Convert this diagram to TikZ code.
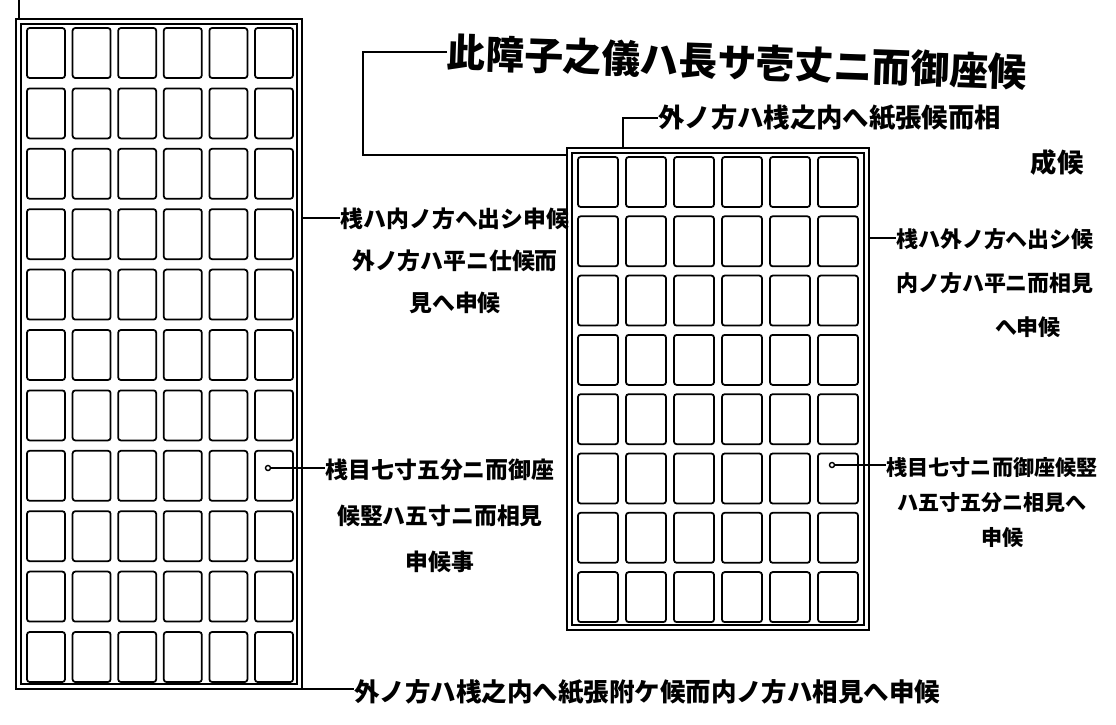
\documentclass[tikz,border=0pt]{standalone}
\usepackage{fontspec}
\setmainfont{Noto Sans CJK JP}
\usetikzlibrary{calc}

\tikzset{
  cell/.style = {line width=1pt, rounded corners=1.5pt},
  frame/.style = {line width=1.1pt},
  lead/.style = {line width=0.8pt},
  note/.style = {inner sep=0pt, align=center, font=\bfseries\fontsize{13}{24}\selectfont},
}

\begin{document}
\begin{tikzpicture} [x=0.02cm, y=-0.02cm]
	\useasboundingbox (0,0) rectangle (1116,724);
	% left screen
	\draw [frame] (16,19) rectangle (302,689);
	\draw [frame] (21,24) rectangle (297,684);
	\foreach \i in {0,...,5}
		\foreach \j in {0,...,10}
			\draw [cell] ({27+45.6*\i},{28+60.4*\j}) rectangle ++(38,50);
	% right screen
	\draw [frame] (567,148) rectangle (869,630);
	\draw [frame] (572,153) rectangle (864,625);
	\foreach \i in {0,...,5}
		\foreach \j in {0,...,7}
			\draw [cell] ({578+48*\i},{157+59.3*\j}) rectangle ++(40,50);
	\coordinate (L-top) at (19,19);
	\coordinate (L-a) at (302,218);
	\coordinate (L-b) at (268,468);
	\coordinate (L-c) at (296,689);
	\coordinate (R-side) at (567,155);
	\coordinate (R-top) at (623,148);
	\coordinate (R-a) at (869,238);
	\coordinate (R-b) at (832,465);
	% labels
	\node [anchor=west, rotate=-2, inner sep=0pt, font=\bfseries\fontsize{22}{22}\selectfont] (title) at (447,52) {此障子之儀ハ長サ壱丈ニ而御座候};
	\node [anchor=west, inner sep=0pt, font=\bfseries\fontsize{15}{15}\selectfont] (hdrA) at (658,118) {外ノ方ハ桟之内へ紙張候而相};
	\node [inner sep=0pt, font=\bfseries\fontsize{15}{15}\selectfont] (hdrB) at (1057,162) {成候};
	\node [note, anchor=north] (lmid) at (455,207) {桟ハ内ノ方ヘ出シ申候\\外ノ方ハ平ニ仕候而\\見へ申候};
	\node [note, anchor=north, font=\bfseries\fontsize{12.5}{25}\selectfont] (rmid) at (995,228) {桟ハ外ノ方ヘ出シ候\\内ノ方ハ平ニ而相見\\\hspace*{3em}へ申候};
	\node [note, anchor=north, font=\bfseries\fontsize{13}{26}\selectfont] (llow) at (440,459) {桟目七寸五分ニ而御座\\候竪ハ五寸ニ而相見\\申候事};
	\node [note, anchor=north, font=\bfseries\fontsize{12}{20}\selectfont] (rlow) at (992,457) {桟目七寸ニ而御座候竪\\ハ五寸五分ニ相見へ\\\hspace*{1em}申候};
	\node [anchor=west, inner sep=0pt, font=\bfseries\fontsize{14.5}{14.5}\selectfont] (btm) at (354,692) {外ノ方ハ桟之内へ紙張附ケ候而内ノ方ハ相見へ申候};
	% leader lines
	\draw [lead] (L-top) -- ++(0,-19);
	\draw [lead] (title.west) -- ++(-84,0) |- (R-side);
	\draw [lead] (R-top) |- (hdrA.west);
	\draw [lead] (L-a) -- (L-a -| lmid.west);
	\draw [lead] (R-a) -- (R-a -| rmid.west);
	\draw [lead] (L-b) -- (L-b -| llow.west);
	\draw [lead] (R-b) -- (R-b -| rlow.west);
	\draw [lead] (L-c) -- (L-c -| btm.west);
	\draw [lead, fill=white] (L-b) circle (2.5);
	\draw [lead, fill=white] (R-b) circle (2.5);
\end{tikzpicture}
\end{document}
